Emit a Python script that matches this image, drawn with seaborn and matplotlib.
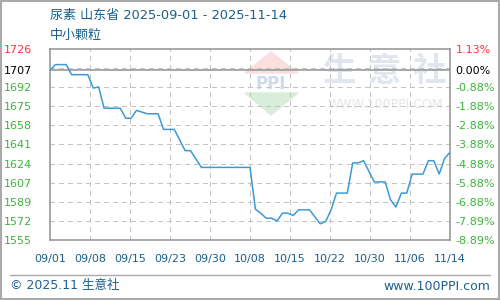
import numpy as np
import pandas as pd
import matplotlib
matplotlib.use("Agg")
import matplotlib.pyplot as plt
from matplotlib.patches import Polygon, Rectangle
from matplotlib.lines import Line2D
import seaborn as sns

sns.set_theme(style="white")
plt.rcParams['font.family'] = ['DejaVu Sans', 'Noto Sans CJK SC']

# ---- data (day offset from 2025-09-01, price) ----
days = [0, 1, 3, 4, 7, 8, 9, 10, 13, 14, 15, 16, 18, 20, 21, 23, 25, 26, 28, 37,
        38, 39, 40, 41, 42, 43, 44, 45, 46, 48, 50, 51, 52, 53, 55, 56, 57, 58,
        60, 62, 63, 64, 65, 66, 67, 69, 70, 71, 72, 73, 74]
prices = [1707, 1712, 1712, 1703, 1703, 1691, 1692, 1673, 1673, 1664, 1664, 1671, 1668, 1668,
          1654, 1654, 1635, 1635, 1620, 1620,
          1582.5, 1579, 1574.5, 1574.5, 1572, 1579, 1579, 1577, 1582, 1582, 1569.5, 1571.5, 1582,
          1597, 1597, 1624, 1624, 1626, 1607, 1607, 1591, 1584.5, 1597, 1597, 1614, 1614,
          1626, 1626, 1614, 1628, 1633.5]
x_labels = ["09/01", "09/08", "09/15", "09/23", "09/30", "10/08", "10/15",
            "10/22", "10/30", "11/06", "11/14"]
y_labels = ["1726", "1707", "1692", "1675", "1658", "1641", "1624", "1607", "1589", "1572", "1555"]
pct_labels = ["1.13%", "0.00%", "-0.88%", "-1.88%", "-2.88%", "-3.88%", "-4.88%",
              "-5.88%", "-6.88%", "-7.89%", "-8.89%"]
y_max, y_min, base = 1726, 1555, 1707
title = "尿素 山东省 2025-09-01 - 2025-11-14"
subtitle = "中小颗粒"

df = pd.DataFrame({"day": days, "price": prices})

fig = plt.figure(figsize=(5, 3), dpi=100)
ax = fig.add_axes([0.1, 0.2, 0.8, 0.6367])
ax.patch.set_visible(False)

step = (y_max - y_min) / 10
grid_vals = [y_max - k * step for k in range(0, 11)]
tick_vals = [y_max, base] + grid_vals[2:]

ax.set_xlim(0, 74)
ax.set_ylim(y_min, y_max)

# grid
gridc = "#c4c4c4"
xt = np.linspace(0, 74, len(x_labels))
ax.hlines(grid_vals[1:-1], 0, 74, colors=gridc, lw=1, linestyles=(0, (3, 3)), zorder=1,
          antialiased=False)
ax.vlines(xt[1:-1], y_min, y_max, colors=gridc, lw=1, linestyles=(0, (3, 3)), zorder=1,
          antialiased=False)
ax.axhline(base, color="#999999", lw=1.2, zorder=2)

sns.lineplot(data=df, x="day", y="price", ax=ax, color="#3b9ad8", lw=1.1, zorder=3)

for s in ax.spines.values():
    s.set_color("#999999")
    s.set_linewidth(1.2)

ax.set_xlabel("")
ax.set_ylabel("")
ax.set_xticks(xt)
ax.set_xticklabels(x_labels, fontsize=8, color="#1b5f8f")
ax.tick_params(axis="x", length=0, pad=10)

ax.set_yticks(tick_vals)
ax.set_yticklabels(y_labels, fontsize=8, ha="left")
ax.tick_params(axis="y", length=0, pad=33)
green = "#3cb43c"
for i, t in enumerate(ax.get_yticklabels()):
    t.set_color("#ff3333" if i == 0 else ("black" if i == 1 else green))

ax2 = ax.twinx()
ax2.patch.set_visible(False)
ax2.set_ylim(y_min, y_max)
ax2.set_yticks(tick_vals)
ax2.set_yticklabels(pct_labels, fontsize=8)
ax2.tick_params(axis="y", length=0, pad=4)
for i, t in enumerate(ax2.get_yticklabels()):
    t.set_color("#ff3333" if i == 0 else ("black" if i == 1 else green))
for s in ax2.spines.values():
    s.set_visible(False)
ax2.grid(False)

# titles
fig.text(50 / 500, 1 - 15 / 300, title, fontsize=9.4, color="#1b5f8f", va="center", ha="left")
fig.text(50 / 500, 1 - 35 / 300, subtitle, fontsize=9.4, color="#1b5f8f", va="center", ha="left")

# watermark (behind the axes)
def fx(px):
    return px / 500
def fy(py):
    return 1 - py / 300
fig.patches.append(Polygon([[fx(245), fy(73)], [fx(271), fy(52)], [fx(298), fy(73)]],
                           closed=True, transform=fig.transFigure, color="#fbdede", zorder=-5))
fig.patches.append(Polygon([[fx(245), fy(93)], [fx(271), fy(115)], [fx(298), fy(93)]],
                           closed=True, transform=fig.transFigure, color="#d9eed9", zorder=-5))
fig.text(fx(271), fy(84), "PPI", fontsize=12, fontweight="bold", color="#cfdaec",
         ha="center", va="center", zorder=-5)
fig.text(fx(385), fy(72), "生 意 社", fontsize=24, color="#e0e5ee", ha="center", va="center",
         fontweight="bold", zorder=-5)
fig.text(fx(385), fy(104), "WWW.100PPI.COM", fontsize=9, color="#e6e6e6", ha="center",
         va="center", zorder=-5)

# footer
fig.lines.append(Line2D([fx(10), fx(490)], [fy(275), fy(275)], transform=fig.transFigure,
                        color="#aaaaaa", lw=1))
fig.text(fx(10), fy(286), "© 2025.11 生意社", fontsize=9, color="#1b5f8f", ha="left", va="center")
fig.text(fx(490), fy(286), "www.100PPI.com", fontsize=9, color="#1b5f8f", ha="right", va="center")
fig.patches.append(Rectangle((0.001, 0.002), 0.997, 0.995, transform=fig.transFigure,
                             fill=False, edgecolor="#aaaaaa", lw=1.5))

fig.savefig("out.png", dpi=100)
